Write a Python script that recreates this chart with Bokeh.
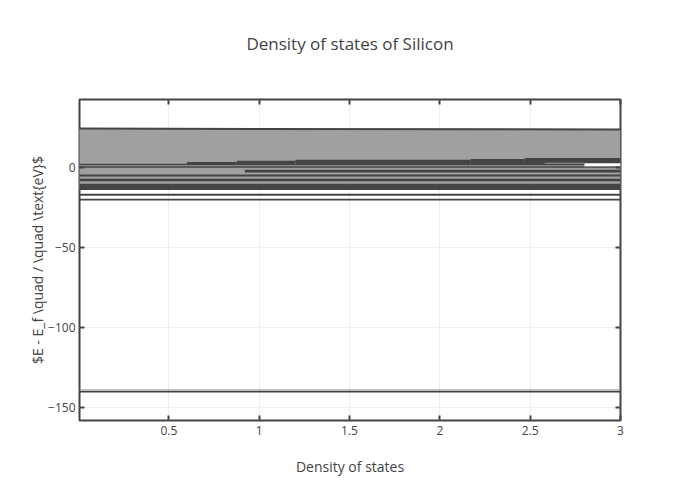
from bokeh.plotting import figure
from bokeh.models import Range1d, FixedTicker, LinearAxis, CustomJSTickFormatter
from bokeh.embed import file_html
from bokeh.resources import INLINE

# ---------------- data ----------------
title_text = "Density of states of Silicon"
x_label = "Density of states"
y_label = r"$E - E_f \quad / \quad \text{eV}$"

x_ticks = [0.5, 1, 1.5, 2, 2.5, 3]
y_ticks = [-150, -100, -50, 0]

# filled region of states (energies in eV, DOS on x)
fill_x = [0.0, 3.0, 3.0, 0.0]
fill_e = [24.3, 23.8, -14.0, -14.0]

# top edge of the filled region
edge_x = [0.0, 3.0]
edge_e = [24.3, 23.8]

# stepped dark band just above the Fermi level
step_left = [0.0, 0.6, 0.876, 1.2, 2.17, 2.47]
step_right = [0.6, 0.876, 1.2, 2.17, 2.47, 3.0]
step_top = [2.3, 3.5, 4.3, 4.8, 5.3, 5.9]
step_bottom = [1.4, 1.4, 1.4, 1.4, 1.4, 1.4]

# dark horizontal bands of the DOS trace
band_left = [0.0, 0.92, 0.0, 0.0, 0.0, 0.0, 0.0, 0.0]
band_right = [3.0, 3.0, 3.0, 3.0, 3.0, 3.0, 3.0, 3.0]
band_top = [0.8, -1.4, -4.4, -7.1, -10.2, -16.4, -19.6, -139.5]
band_bottom = [-0.2, -3.1, -5.6, -8.6, -14.0, -17.7, -20.6, -140.6]

# empty gap near the right edge
gap_left = [2.8]
gap_right = [3.0]
gap_top = [2.7]
gap_bottom = [0.8]

# thin light lines
thin_x0 = [2.58, 0.0]
thin_x1 = [2.8, 3.0]
thin_e = [2.7, -139.0]

# ---------------- figure ----------------
DARK = "#444444"
FILL = "#a0a0a0"
FONT = "Open Sans"

p = figure(
    frame_width=541, frame_height=321,
    min_border_left=79, min_border_top=99,
    min_border_right=64, min_border_bottom=64,
    x_range=Range1d(0.005, 3.0), y_range=Range1d(-158.1, 42.5),
    output_backend="svg", toolbar_location=None,
    background_fill_color="white", border_fill_color="white",
)
p.title.visible = False

p.outline_line_color = DARK
p.outline_line_width = 2

fmt = CustomJSTickFormatter(code="return tick.toString().replace('-', '\u2212');")

for ax in (p.xaxis[0], p.yaxis[0]):
    ax.formatter = fmt
    ax.major_tick_in = 5
    ax.major_tick_out = 0
    ax.minor_tick_line_color = None
    ax.major_tick_line_color = DARK
    ax.major_tick_line_width = 2
    ax.axis_line_color = None
    ax.major_label_text_font = FONT
    ax.major_label_text_font_size = "12px"
    ax.major_label_text_color = DARK
    ax.axis_label_text_font = FONT
    ax.axis_label_text_font_size = "14px"
    ax.axis_label_text_font_style = "normal"
    ax.axis_label_text_color = DARK

p.xaxis[0].ticker = FixedTicker(ticks=x_ticks)
p.yaxis[0].ticker = FixedTicker(ticks=y_ticks)
p.xaxis[0].axis_label = x_label
p.yaxis[0].axis_label = y_label
p.xaxis[0].major_label_standoff = 5
p.xaxis[0].axis_label_standoff = 19
p.yaxis[0].major_label_standoff = 4
p.yaxis[0].axis_label_standoff = -2

# mirrored tick axes (ticks only, tick labels not painted);
# the top one carries the chart title centred over the plot area
top_ax = LinearAxis(ticker=FixedTicker(ticks=x_ticks))
right_ax = LinearAxis(ticker=FixedTicker(ticks=y_ticks))
for ax in (top_ax, right_ax):
    ax.major_tick_in = 5
    ax.major_tick_out = 0
    ax.minor_tick_line_color = None
    ax.major_tick_line_color = DARK
    ax.major_tick_line_width = 2
    ax.axis_line_color = None
    ax.major_label_text_color = None
    ax.major_label_text_font_size = "0px"
    ax.major_label_standoff = 0
top_ax.axis_label = title_text
top_ax.axis_label_text_font = FONT
top_ax.axis_label_text_font_size = "17px"
top_ax.axis_label_text_font_style = "normal"
top_ax.axis_label_text_color = DARK
top_ax.axis_label_standoff = 45
p.add_layout(top_ax, "above")
p.add_layout(right_ax, "right")

p.grid.grid_line_color = "#eeeeee"
p.grid.grid_line_width = 1
p.xgrid.ticker = FixedTicker(ticks=x_ticks)
p.ygrid.ticker = FixedTicker(ticks=y_ticks)

# glyphs
p.patch(fill_x, fill_e, fill_color=FILL, line_color=None)
p.line(edge_x, edge_e, line_color=DARK, line_width=2)
p.quad(left=step_left, right=step_right, top=step_top, bottom=step_bottom,
       fill_color=DARK, line_color=None)
p.quad(left=band_left, right=band_right, top=band_top, bottom=band_bottom,
       fill_color=DARK, line_color=None)
p.quad(left=gap_left, right=gap_right, top=gap_top, bottom=gap_bottom,
       fill_color="white", line_color=None)
p.segment(x0=thin_x0, y0=thin_e, x1=thin_x1, y1=thin_e, line_color="#999999", line_width=1)

open("out.html", "w").write(file_html(p, INLINE))
